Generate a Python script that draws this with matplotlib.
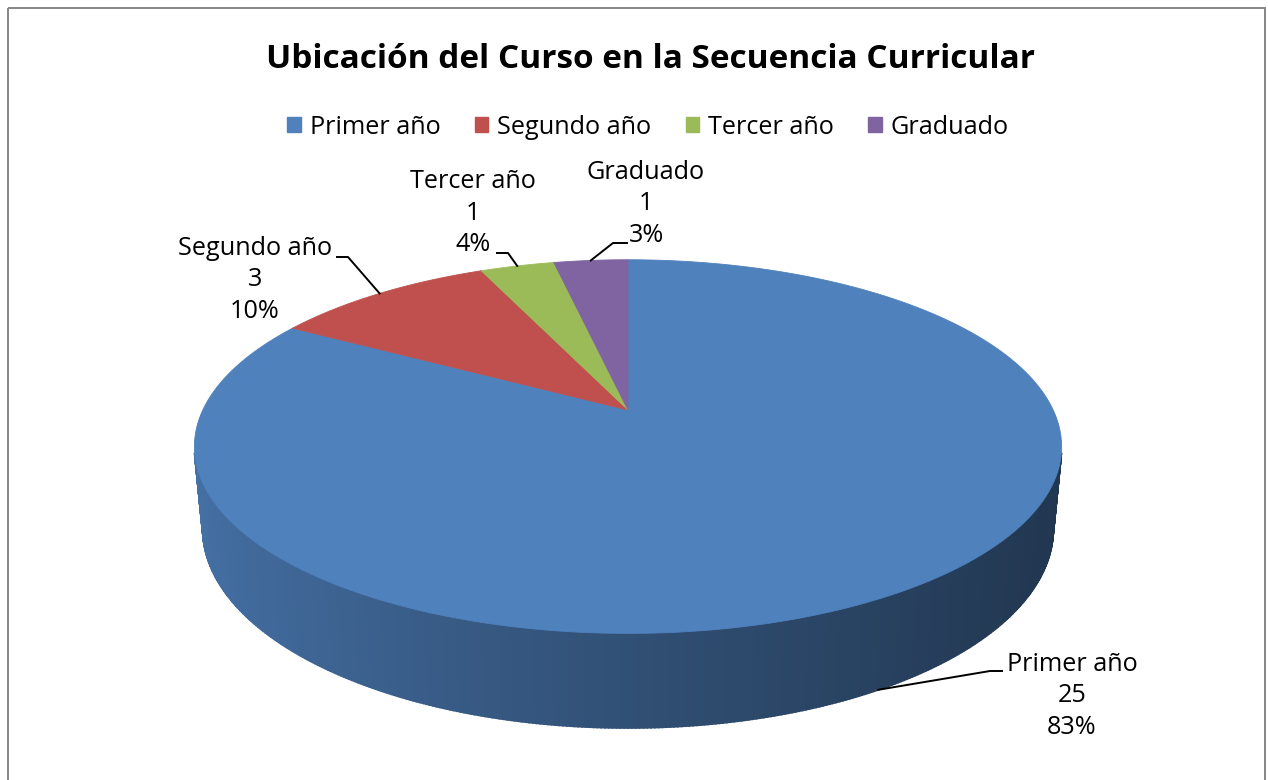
import matplotlib
matplotlib.use('Agg')
import matplotlib.pyplot as plt
import matplotlib.patches as mpatches
import numpy as np

plt.rcParams['font.family'] = ['Open Sans', 'DejaVu Sans']

# Data
categories = ['Primer año', 'Segundo año', 'Tercer año', 'Graduado']
counts = [25, 3, 1, 1]
pct_labels = ['83%', '10%', '4%', '3%']
colors = ['#4F81BD', '#C0504D', '#9BBB59', '#8064A2']
title = 'Ubicación del Curso en la Secuencia Curricular'

# Label layout (pixel coords): text centre, and leader elbow / stub end
label_pos = [(1072, 696), (255, 280), (473, 213), (646, 204)]
label_stub = [(990, 671, 1002), (348, 257, 337), (508, 253, 497), (613, 243, 627)]

W, H = 1268, 780
fig = plt.figure(figsize=(W / 100, H / 100), dpi=100)
ax = fig.add_axes([0, 0, 1, 1])
ax.set_xlim(0, W)
ax.set_ylim(H, 0)
ax.axis('off')

# frame of the chart area
ax.add_patch(mpatches.Rectangle((7.5, 7.5), 1257, 800, fill=False,
                                edgecolor='#868686', linewidth=1.4))

# simple perspective projection of a unit disc (top at z=0, thickness h)
cx, cy = 628, 410
elev = np.radians(24.7)
dist = 4.64
focal_x, focal_y = 1973, 1995
h = 0.21


def project(t, z=0.0):
    X, Y = np.cos(t), np.sin(t)
    v = Y * np.sin(elev) + z * np.cos(elev)
    w = Y * np.cos(elev) - z * np.sin(elev) + dist
    return cx + focal_x * X / w, cy - focal_y * v / w, w


def shade(hexcol, f):
    rgb = np.array(matplotlib.colors.to_rgb(hexcol))
    return tuple(np.clip(rgb * f, 0, 1))


vals = np.array(counts, dtype=float)
fracs = vals / vals.sum()
bounds = np.radians(90 - 360 * np.concatenate([[0], np.cumsum(fracs)]))
starts, ends = bounds[:-1], bounds[1:]


def slice_of(t):
    # angle t in radians, slices run clockwise from 90 deg
    a = (np.radians(90) - t) % (2 * np.pi)
    return int(np.searchsorted(np.cumsum(fracs) * 2 * np.pi, a, side='right'))


# side wall: only the part facing the camera (sin t < -1/(D cos e))
sil = np.arcsin(1 / (dist * np.cos(elev)))
ts = np.linspace(np.pi + sil - 0.01, 2 * np.pi - sil + 0.01, 361)
for t0, t1 in zip(ts[:-1], ts[1:]):
    x0, y0, _ = project(t0)
    x1, y1, _ = project(t1)
    x2, y2, _ = project(t1, -h)
    x3, y3, _ = project(t0, -h)
    tm = 0.5 * (t0 + t1)
    k = min(slice_of(tm), len(colors) - 1)
    s = np.clip(np.cos(tm), -1, 1)
    f = 0.42 + 0.46 * ((1 - s) / 2) ** 1.2
    col = shade(colors[k], f)
    ax.add_patch(mpatches.Polygon([(x0, y0), (x1, y1), (x2, y2), (x3, y3)], closed=True,
                                  facecolor=col, edgecolor=col, linewidth=1.3))

# top face slices
for a0, a1, col in zip(starts, ends, colors):
    tt = np.linspace(a0, a1, 200)
    xs, ys, _ = project(tt)
    pts = [(cx, cy)] + list(zip(xs, ys))
    ax.add_patch(mpatches.Polygon(pts, closed=True, facecolor=col, edgecolor=col, linewidth=0.6))

# data labels with leader lines
for k, (cat, cnt, pct) in enumerate(zip(categories, counts, pct_labels)):
    mid = 0.5 * (starts[k] + ends[k])
    z = -h if np.sin(mid) < 0 else 0.0
    axp, ayp, _ = project(mid, z)
    ex, ey, sx = label_stub[k]
    ax.plot([axp, ex, sx], [ayp, ey, ey], color='black', linewidth=1.4)
    tx, ty = label_pos[k]
    ax.text(tx, ty, f'{cat}\n{cnt}\n{pct}', ha='center', va='center',
            fontsize=18.2, linespacing=1.36, color='black')

# title
ax.text(651, 60, title, ha='center', va='center', fontsize=24, fontweight='bold', color='black')

# legend
handles = [mpatches.Patch(facecolor=c, edgecolor=c, label=l) for c, l in zip(colors, categories)]
fig.legend(handles=handles, loc='center', bbox_to_anchor=(648 / W, 1 - 127 / H), ncol=4,
           frameon=False, fontsize=18.2, handlelength=0.55, handleheight=0.55,
           handletextpad=0.35, columnspacing=1.35)

fig.savefig('out.png', dpi=100, facecolor='white')
